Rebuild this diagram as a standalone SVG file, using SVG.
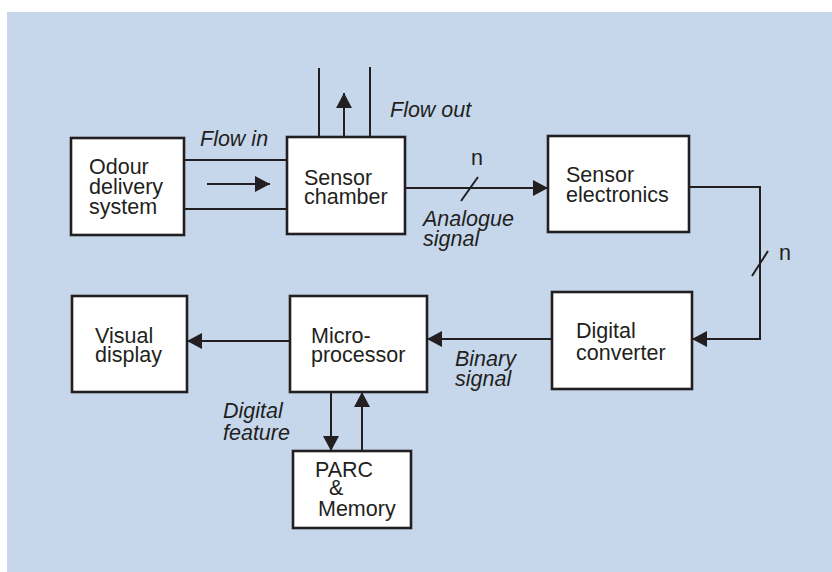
<svg xmlns="http://www.w3.org/2000/svg" width="832" height="572" viewBox="0 0 832 572">
<style>
.bg{fill:#c6d7ec}
.box{fill:#ffffff;stroke:#231f20;stroke-width:2.6}
.ln{fill:none;stroke:#231f20;stroke-width:2}
.t{font-family:"Liberation Sans",Arial,sans-serif;font-size:21.5px;fill:#231f20}
.i{font-style:italic}
</style>
<defs>
<marker id="ah" viewBox="0 0 15 16" refX="15" refY="8" markerWidth="15" markerHeight="16" markerUnits="userSpaceOnUse" orient="auto">
<path d="M0,0 L15,8 L0,16 Z" fill="#231f20"/>
</marker>
</defs>
<rect class="bg" x="7" y="12" width="825" height="560"/>
<g id="connectors">
<line class="ln" x1="184" y1="160" x2="287" y2="160"/>
<line class="ln" x1="184" y1="209" x2="287" y2="209"/>
<line class="ln" x1="207" y1="184" x2="270" y2="184" marker-end="url(#ah)"/>
<line class="ln" x1="319" y1="68" x2="319" y2="137"/>
<line class="ln" x1="370" y1="67" x2="370" y2="137"/>
<line class="ln" x1="344" y1="137" x2="344" y2="93" marker-end="url(#ah)"/>
<line class="ln" x1="405" y1="188" x2="548" y2="188" marker-end="url(#ah)"/>
<line class="ln" x1="461" y1="201" x2="478" y2="177"/>
<polyline class="ln" points="689,187 760,187 760,339 692,339" marker-end="url(#ah)"/>
<line class="ln" x1="752" y1="276" x2="768" y2="251"/>
<line class="ln" x1="552" y1="339" x2="427" y2="339" marker-end="url(#ah)"/>
<line class="ln" x1="290" y1="341" x2="187" y2="341" marker-end="url(#ah)"/>
<line class="ln" x1="331" y1="392" x2="331" y2="451" marker-end="url(#ah)"/>
<line class="ln" x1="362" y1="451" x2="362" y2="392" marker-end="url(#ah)"/>
<text class="t i" x="200" y="146">Flow in</text>
<text class="t i" x="390" y="117">Flow out</text>
<text class="t" x="471" y="165">n</text>
<text class="t i" x="423" y="226">Analogue</text>
<text class="t i" x="423" y="246">signal</text>
<text class="t" x="779" y="260">n</text>
<text class="t i" x="455" y="366">Binary</text>
<text class="t i" x="455" y="386">signal</text>
<text class="t i" x="223" y="418">Digital</text>
<text class="t i" x="223" y="440">feature</text>
</g>
<g id="odour">
<rect class="box" x="71" y="138" width="113" height="97"/>
<text class="t" x="89" y="174">Odour</text>
<text class="t" x="89" y="194">delivery</text>
<text class="t" x="89" y="214">system</text>
</g>
<g id="chamber">
<rect class="box" x="287" y="137" width="118" height="97"/>
<text class="t" x="304" y="185">Sensor</text>
<text class="t" x="304" y="204">chamber</text>
</g>
<g id="electronics">
<rect class="box" x="548" y="136" width="141" height="96"/>
<text class="t" x="566" y="182">Sensor</text>
<text class="t" x="566" y="202">electronics</text>
</g>
<g id="converter">
<rect class="box" x="552" y="292" width="140" height="97"/>
<text class="t" x="576" y="338">Digital</text>
<text class="t" x="576" y="360">converter</text>
</g>
<g id="micro">
<rect class="box" x="290" y="296" width="137" height="96"/>
<text class="t" x="311" y="343">Micro-</text>
<text class="t" x="311" y="362">processor</text>
</g>
<g id="display">
<rect class="box" x="72" y="296" width="115" height="96"/>
<text class="t" x="95" y="343">Visual</text>
<text class="t" x="95" y="362">display</text>
</g>
<g id="parc">
<rect class="box" x="293" y="451" width="118" height="77"/>
<text class="t" x="315" y="477">PARC</text>
<text class="t" x="329" y="495">&amp;</text>
<text class="t" x="318" y="516">Memory</text>
</g>
</svg>
